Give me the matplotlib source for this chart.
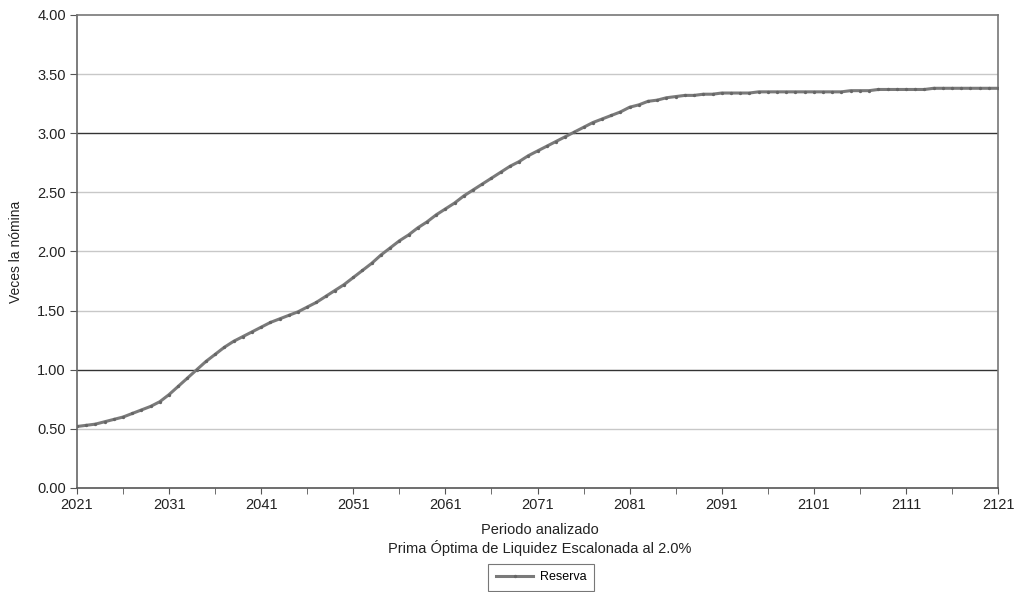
import matplotlib.pyplot as plt
import numpy as np
from matplotlib.ticker import MultipleLocator, FormatStrFormatter

plt.rcParams['font.family'] = ['Liberation Sans', 'DejaVu Sans']

# Reserve as multiple of payroll, yearly 2021-2121
years = list(range(2021, 2122))
reserva = [
    0.52, 0.53, 0.54, 0.56, 0.58, 0.60, 0.63, 0.66, 0.69, 0.73,   # 2021-2030
    0.79, 0.86, 0.93, 1.00, 1.07, 1.13, 1.19, 1.24, 1.28, 1.32,   # 2031-2040
    1.36, 1.40, 1.43, 1.46, 1.49, 1.53, 1.57, 1.62, 1.67, 1.72,   # 2041-2050
    1.78, 1.84, 1.90, 1.97, 2.03, 2.09, 2.14, 2.20, 2.25, 2.31,   # 2051-2060
    2.36, 2.41, 2.47, 2.52, 2.57, 2.62, 2.67, 2.72, 2.76, 2.81,   # 2061-2070
    2.85, 2.89, 2.93, 2.97, 3.01, 3.05, 3.09, 3.12, 3.15, 3.18,   # 2071-2080
    3.22, 3.24, 3.27, 3.28, 3.30, 3.31, 3.32, 3.32, 3.33, 3.33,   # 2081-2090
    3.34, 3.34, 3.34, 3.34, 3.35, 3.35, 3.35, 3.35, 3.35, 3.35,   # 2091-2100
    3.35, 3.35, 3.35, 3.35, 3.36, 3.36, 3.36, 3.37, 3.37, 3.37,   # 2101-2110
    3.37, 3.37, 3.37, 3.38, 3.38, 3.38, 3.38, 3.38, 3.38, 3.38,   # 2111-2120
    3.38,                                                         # 2121
]

light_grid = [0.5, 1.5, 2.0, 2.5, 3.5]
dark_grid = [1.0, 3.0]

fig = plt.figure(figsize=(10.18, 5.92), dpi=100)
ax = fig.add_axes([0.0756, 0.1757, 0.9048, 0.7990])

for g in light_grid:
    ax.axhline(g, color='#c8c8c8', lw=1.0, zorder=1)
for g in dark_grid:
    ax.axhline(g, color='#333333', lw=1.0, zorder=1)

ax.plot(years, reserva, color='#7a7a7a', lw=2.2, marker='o', markersize=2.4,
        markerfacecolor='#666666', markeredgewidth=0, label='Reserva', zorder=3)

ax.set_xlim(2021, 2121)
ax.set_ylim(0, 4)
ax.yaxis.set_major_locator(MultipleLocator(0.5))
ax.yaxis.set_major_formatter(FormatStrFormatter('%.2f'))
ax.set_xticks(range(2021, 2122, 10))
ax.set_xticks(range(2021, 2122, 5), minor=True)

for s in ax.spines.values():
    s.set_color('#777777')
    s.set_linewidth(1.2)
ax.spines['left'].set_color('#666666')
ax.spines['bottom'].set_color('#555555')

ax.tick_params(axis='both', which='both', direction='out', color='#555555',
               labelsize=10.5, labelcolor='#222222')
ax.tick_params(axis='x', which='major', length=4, pad=3)
ax.tick_params(axis='x', which='minor', length=4)
ax.tick_params(axis='y', length=5, pad=3)

ax.set_ylabel('Veces la nómina', fontsize=10, color='#222222', labelpad=10)
fig.text(540 / 1018, 1 - 530 / 592, 'Periodo analizado', ha='center', va='center',
         fontsize=10.5, color='#222222')
fig.text(540 / 1018, 1 - 548 / 592, 'Prima Óptima de Liquidez Escalonada al 2.0%',
         ha='center', va='center', fontsize=10.5, color='#222222')

leg = fig.legend(loc='center', bbox_to_anchor=(541 / 1018, 1 - 577 / 592),
                 fontsize=9, frameon=True, fancybox=False, handlelength=3.0,
                 borderpad=0.6, handletextpad=0.5, borderaxespad=0)
leg.get_frame().set_edgecolor('#555555')
leg.get_frame().set_linewidth(0.8)

fig.savefig('out.png', dpi=100)
